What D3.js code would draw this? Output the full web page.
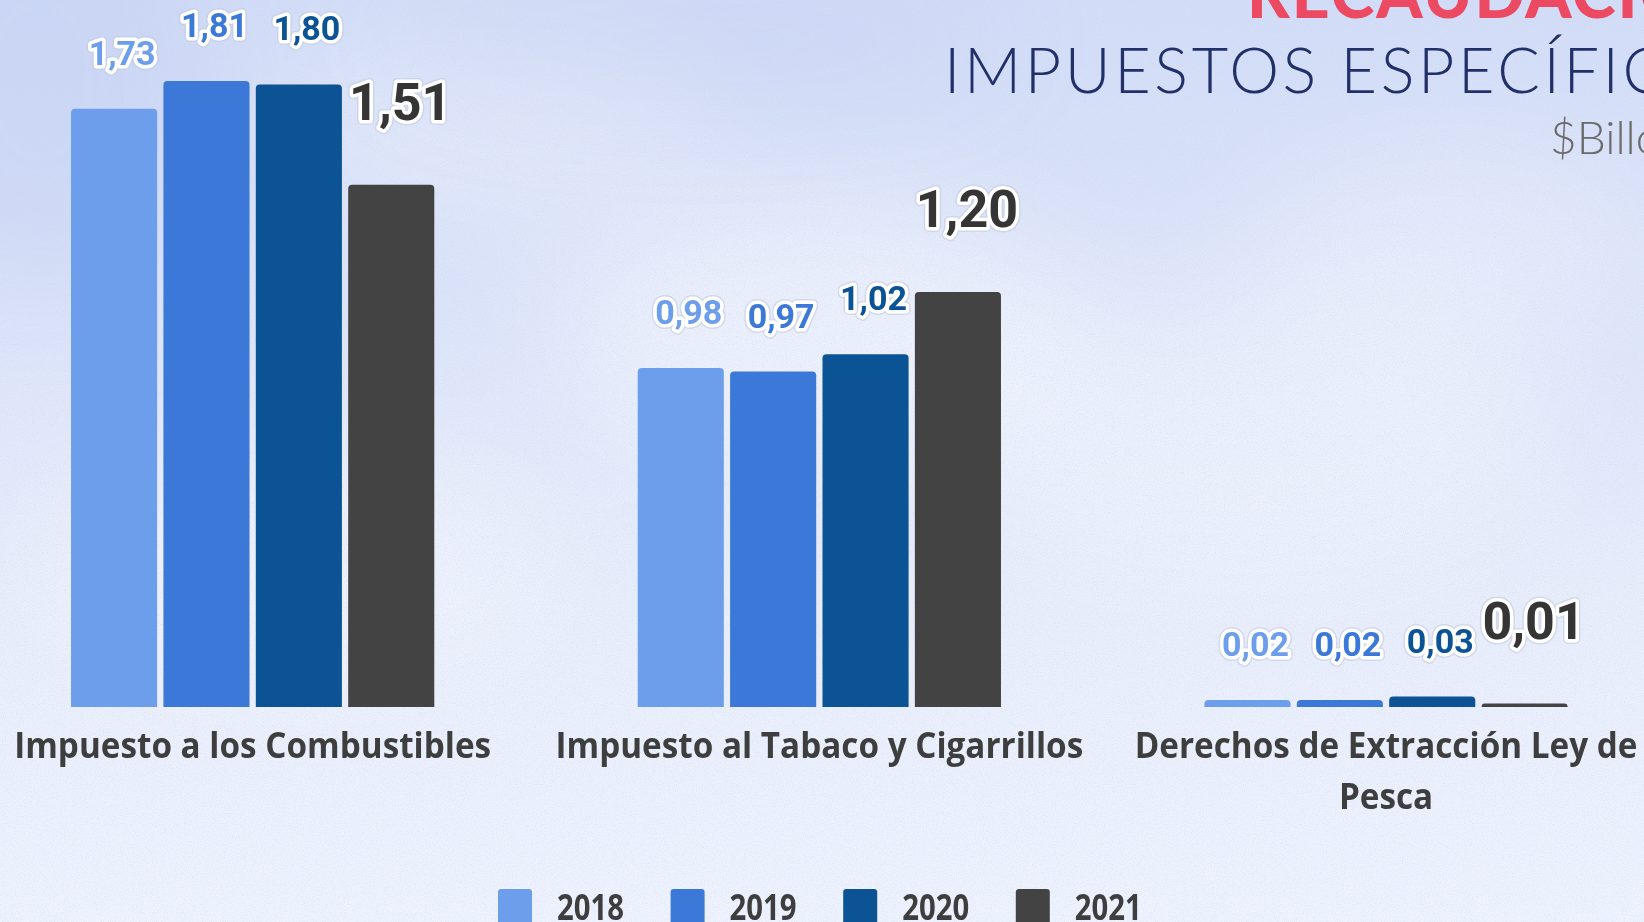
<!DOCTYPE html>
<html>
<head>
<meta charset="utf-8">
<script src="https://cdn.jsdelivr.net/npm/d3@7/dist/d3.min.js"></script>
<style>
  html, body { margin: 0; padding: 0; overflow: hidden; background: #e6ecfb; }
  svg { display: block; }
</style>
</head>
<body>
<svg id="chart" width="1644" height="922"></svg>
<script>
// ---- data ----
const categories = ["Impuesto a los Combustibles", "Impuesto al Tabaco y Cigarrillos", "Derechos de Extracción Ley de Pesca"];
const years = ["2018", "2019", "2020", "2021"];
const values2018 = [1.73, 0.98, 0.02];
const values2019 = [1.81, 0.97, 0.02];
const values2020 = [1.80, 1.02, 0.03];
const values2021 = [1.51, 1.20, 0.01];
const seriesColors = ["#6d9eeb", "#3c78d8", "#0b5394", "#434343"];
const labelColors = ["#6d9eeb", "#3c78d8", "#0b5394", "#353535"];
const titleLine1 = "RECAUDACIÓN";
const titleLine2 = "IMPUESTOS ESPECÍFICOS";
const subtitle = "$Billones";

const seriesValues = [values2018, values2019, values2020, values2021];
const W = 1644, H = 922;
const svg = d3.select("#chart");
const defs = svg.append("defs");

// ---- background ----
const bg = defs.append("linearGradient").attr("id", "bg").attr("x1", 0).attr("y1", 0).attr("x2", 0).attr("y2", 1);
bg.append("stop").attr("offset", "0").attr("stop-color", "#d3ddf7");
bg.append("stop").attr("offset", "0.35").attr("stop-color", "#dde5f9");
bg.append("stop").attr("offset", "0.65").attr("stop-color", "#e9eefb");
bg.append("stop").attr("offset", "1").attr("stop-color", "#eff3fd");
svg.append("rect").attr("width", W).attr("height", H).attr("fill", "url(#bg)");

const blur = defs.append("filter").attr("id", "cloud").attr("x", "-50%").attr("y", "-50%").attr("width", "200%").attr("height", "200%");
blur.append("feGaussianBlur").attr("stdDeviation", 60);
const clouds = [
  {cx: 820, cy: 330, rx: 260, ry: 130, o: 0.45},
  {cx: 1250, cy: 430, rx: 300, ry: 140, o: 0.35},
  {cx: 500, cy: 120, rx: 220, ry: 80, o: 0.3},
  {cx: 300, cy: 560, rx: 260, ry: 120, o: 0.3},
  {cx: 1450, cy: 250, rx: 200, ry: 100, o: 0.3}
];
svg.append("g").attr("filter", "url(#cloud)").selectAll("ellipse").data(clouds).join("ellipse")
  .attr("cx", d => d.cx).attr("cy", d => d.cy).attr("rx", d => d.rx).attr("ry", d => d.ry)
  .attr("fill", "#ffffff").attr("opacity", d => d.o);
const darkBlur = defs.append("filter").attr("id", "dark").attr("x", "-50%").attr("y", "-50%").attr("width", "200%").attr("height", "200%");
darkBlur.append("feGaussianBlur").attr("stdDeviation", 50);
svg.append("g").attr("filter", "url(#dark)").selectAll("ellipse").data([
  {cx: 40, cy: 80, rx: 160, ry: 200, o: 0.35},
  {cx: 700, cy: 40, rx: 300, ry: 60, o: 0.2}
]).join("ellipse")
  .attr("cx", d => d.cx).attr("cy", d => d.cy).attr("rx", d => d.rx).attr("ry", d => d.ry)
  .attr("fill", "#b9c9f1").attr("opacity", d => d.o);

const noise = defs.append("filter").attr("id", "noise").attr("x", 0).attr("y", 0).attr("width", "100%").attr("height", "100%");
noise.append("feTurbulence").attr("type", "fractalNoise").attr("baseFrequency", 0.9).attr("numOctaves", 2).attr("seed", 3).attr("result", "t");
noise.append("feColorMatrix").attr("type", "matrix")
  .attr("values", "0 0 0 0 0.55  0 0 0 0 0.65  0 0 0 0 0.92  0 0 0 -2.2 1.25");
svg.append("rect").attr("width", W).attr("height", H).attr("filter", "url(#noise)").attr("opacity", 0.35);

// ---- titles ----
svg.append("text").attr("x", 1247).attr("y", 18)
  .attr("font-family", "Lato, 'Open Sans', sans-serif").attr("font-weight", 900)
  .attr("font-size", 66).attr("fill", "#ec4a62").attr("letter-spacing", 2)
  .text(titleLine1);
svg.append("text").attr("x", 944).attr("y", 93)
  .attr("font-family", "Lato, 'Open Sans', sans-serif").attr("font-weight", 300)
  .attr("font-size", 63).attr("fill", "#22306a").attr("letter-spacing", 3.6)
  .text(titleLine2);
svg.append("text").attr("x", 1550).attr("y", 154)
  .attr("font-family", "Lato, 'Open Sans', sans-serif").attr("font-weight", 300)
  .attr("font-size", 46).attr("fill", "#6a6a6a")
  .text(subtitle);

// ---- scales ----
const baseline = 707;
const allValues = seriesValues.flat();
const x0 = d3.scaleBand().domain(categories).range([-30.4, 1669.1]).paddingInner(0.359).paddingOuter(0.179);
const x1 = d3.scaleBand().domain(years).range([0, x0.bandwidth()]).paddingInner(0.068).paddingOuter(0);
const y = d3.scaleLinear().domain([0, d3.max(allValues)]).range([baseline, 81]);

const rows = [];
categories.forEach((c, ci) => years.forEach((yr, si) => rows.push({cat: c, year: yr, si, v: seriesValues[si][ci]})));

function topRoundedBar(x, yTop, w, yBottom, r) {
  const h = yBottom - yTop;
  const rr = Math.min(r, h, w / 2);
  return `M${x},${yBottom}V${yTop + rr}Q${x},${yTop} ${x + rr},${yTop}H${x + w - rr}Q${x + w},${yTop} ${x + w},${yTop + rr}V${yBottom}Z`;
}

const gBars = svg.append("g");
gBars.selectAll("path").data(rows).join("path")
  .attr("d", d => topRoundedBar(x0(d.cat) + x1(d.year), y(d.v), x1.bandwidth(), y(0), 4))
  .attr("fill", d => seriesColors[d.si]);

// ---- value labels ----
const fmt = v => d3.format(".2f")(v).replace(".", ",");
const gLab = svg.append("g").attr("font-family", "Roboto, 'Open Sans', sans-serif").attr("font-weight", 700).attr("text-anchor", "middle");
function labelAttrs(sel) {
  sel.attr("x", d => x0(d.cat) + x1(d.year) + x1.bandwidth() / 2 + (d.si === 3 ? 9 : 8))
    .attr("y", d => y(d.v) - (d.si === 3 ? 65 : 44))
    .attr("font-size", d => d.si === 3 ? 52 : 34)
    .text(d => fmt(d.v));
}
gLab.selectAll("text.halo2").data(rows).join("text").attr("class", "halo2").call(labelAttrs)
  .attr("fill", "none").attr("stroke", "#c3cbe0").attr("stroke-width", 10).attr("stroke-linejoin", "round").attr("opacity", 0.6);
gLab.selectAll("text.halo").data(rows).join("text").attr("class", "halo").call(labelAttrs)
  .attr("fill", "none").attr("stroke", "#ffffff").attr("stroke-width", 7).attr("stroke-linejoin", "round");
gLab.selectAll("text.val").data(rows).join("text").attr("class", "val").call(labelAttrs)
  .attr("fill", d => labelColors[d.si]);

// ---- category axis labels ----
const xAxis = d3.axisBottom(x0).tickSize(0).tickPadding(0);
const gAxis = svg.append("g").attr("transform", `translate(0,${baseline})`).call(xAxis);
gAxis.select(".domain").remove();
const catFont = 36;
gAxis.selectAll(".tick text")
  .attr("font-family", "'Open Sans', sans-serif").attr("font-weight", 700).attr("font-size", catFont)
  .attr("fill", "#3e3e3e").attr("y", 51).attr("dy", null);

// measure and wrap with horizontal compression to match narrow font of reference
const probe = gAxis.select(".tick text").node();
const naturalFirst = probe.getComputedTextLength();
const squeeze = 477 / naturalFirst;
const maxW = 545;
gAxis.selectAll(".tick text").each(function () {
  const t = d3.select(this);
  const words = t.text().split(" ");
  t.text(null);
  let lines = [[]];
  const tmp = t.append("tspan");
  words.forEach(w => {
    const cur = lines[lines.length - 1];
    tmp.text([...cur, w].join(" "));
    if (tmp.node().getComputedTextLength() * squeeze > maxW && cur.length) lines.push([w]);
    else cur.push(w);
  });
  tmp.remove();
  lines.forEach((ln, i) => {
    const ts = t.append("tspan").attr("x", 0).attr("y", 51 + i * 51).text(ln.join(" "));
    const nat = ts.node().getComputedTextLength();
    ts.attr("textLength", nat * squeeze).attr("lengthAdjust", "spacingAndGlyphs");
  });
});

// ---- legend ----
const legend = svg.append("g");
const li = legend.selectAll("g").data(years).join("g")
  .attr("transform", (d, i) => `translate(${498 + i * 172.6},0)`);
li.append("rect").attr("x", 0).attr("y", 889).attr("width", 34).attr("height", 40).attr("rx", 3)
  .attr("fill", (d, i) => seriesColors[i]);
li.append("text").attr("x", 59).attr("y", 920)
  .attr("font-family", "'Open Sans', 'Liberation Sans Narrow', sans-serif")
  .attr("font-weight", 700).attr("font-size", 36).attr("fill", "#3e3e3e")
  .attr("textLength", 67).attr("lengthAdjust", "spacingAndGlyphs")
  .text(d => d);
</script>
</body>
</html>
